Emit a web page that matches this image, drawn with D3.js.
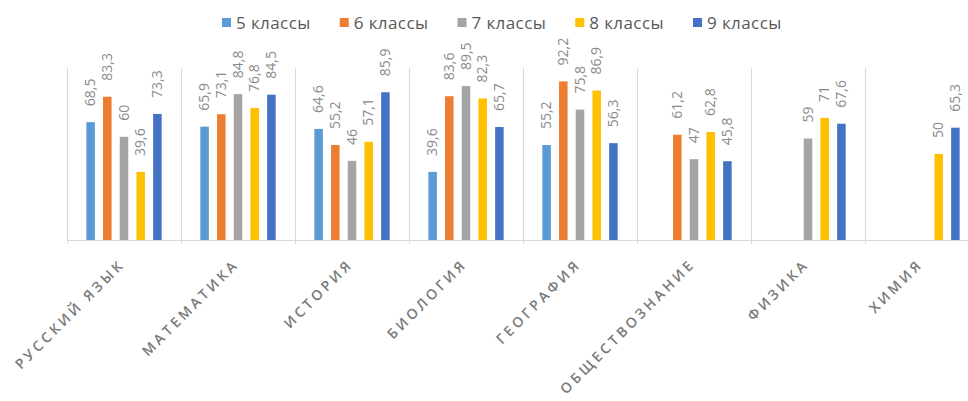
<!DOCTYPE html>
<html>
<head>
<meta charset="utf-8">
<script src="https://cdn.jsdelivr.net/npm/d3@7"></script>
<style>
  html, body { margin: 0; padding: 0; background: #fff; }
  svg { display: block; }
</style>
</head>
<body>
<svg id="chart" width="968" height="401"></svg>
<script>
const categories = ["Русский язык", "Математика", "История", "Биология", "География", "Обществознание", "Физика", "Химия"];
const seriesNames = ["5 классы", "6 классы", "7 классы", "8 классы", "9 классы"];
const s5 = [68.5, 65.9, 64.6, 39.6, 55.2, null, null, null];
const s6 = [83.3, 73.1, 55.2, 83.6, 92.2, 61.2, null, null];
const s7 = [60, 84.8, 46, 89.5, 75.8, 47, 59, null];
const s8 = [39.6, 76.8, 57.1, 82.3, 86.9, 62.8, 71, 50];
const s9 = [73.3, 84.5, 85.9, 65.7, 56.3, 45.8, 67.6, 65.3];
const seriesValues = [s5, s6, s7, s8, s9];
const colors = ["#5B9BD5", "#ED7D31", "#A5A5A5", "#FFC000", "#4472C4"];

const svg = d3.select("#chart");
const plotLeft = 67, plotRight = 979, plotTop = 68, plotBottom = 240;

const x0 = d3.scaleBand().domain(categories).range([plotLeft, plotRight]).padding(0);
const bw = x0.bandwidth();
const groupW = 83.5;
const x1 = d3.scaleBand().domain(seriesNames)
  .range([(bw - groupW) / 2, (bw + groupW) / 2])
  .paddingInner(0.49).paddingOuter(0.245);
const y = d3.scaleLinear().domain([0, 100]).range([plotBottom, plotTop]);

// vertical category separators
const bounds = categories.map(c => x0(c)).concat([plotRight]);
svg.append("g").selectAll("line").data(bounds).join("line")
  .attr("x1", d => d + 0.5).attr("x2", d => d + 0.5)
  .attr("y1", y(100)).attr("y2", plotBottom + 4)
  .attr("stroke", "#d9d9d9").attr("stroke-width", 1);

// baseline axis
svg.append("line")
  .attr("x1", plotLeft).attr("x2", plotRight)
  .attr("y1", plotBottom + 0.5).attr("y2", plotBottom + 0.5)
  .attr("stroke", "#d9d9d9").attr("stroke-width", 1);

const fmt = v => String(v).replace(".", ",");

// bars and labels
const data = [];
categories.forEach((c, ci) => {
  seriesNames.forEach((s, si) => {
    const v = seriesValues[si][ci];
    if (v !== null) data.push({ c, s, si, v });
  });
});

const g = svg.append("g");
g.selectAll("rect").data(data).join("rect")
  .attr("x", d => x0(d.c) + x1(d.s))
  .attr("width", x1.bandwidth())
  .attr("y", d => y(d.v))
  .attr("height", d => plotBottom - y(d.v))
  .attr("fill", d => colors[d.si]);

g.selectAll("text.lbl").data(data).join("text")
  .attr("class", "lbl")
  .attr("transform", d => `translate(${x0(d.c) + x1(d.s) + x1.bandwidth() / 2 - 1},${y(d.v) - 16}) rotate(-90)`)
  .attr("text-anchor", "start")
  .attr("dominant-baseline", "central")
  .attr("font-family", "Open Sans, sans-serif")
  .attr("font-size", 14)
  .attr("fill", "#8a8a8a")
  .text(d => fmt(d.v));

// category labels
svg.append("g").selectAll("text").data(categories).join("text")
  .attr("transform", d => `translate(${x0(d) + bw / 2 + 2},${plotBottom + 25}) rotate(-45)`)
  .attr("text-anchor", "end")
  .attr("font-family", "Open Sans, sans-serif")
  .attr("font-size", 14)
  .attr("font-weight", 600)
  .attr("letter-spacing", 3.3)
  .attr("fill", "#7a7a7a")
  .text(d => d.toUpperCase());

// legend
const legend = svg.append("g");
const lx = d3.scaleLinear().domain([0, 4]).range([222, 693]);
seriesNames.forEach((s, i) => {
  legend.append("rect")
    .attr("x", lx(i)).attr("y", 18)
    .attr("width", 9).attr("height", 9)
    .attr("fill", colors[i]);
  legend.append("text")
    .attr("x", lx(i) + 14).attr("y", 28.5)
    .attr("font-family", "Open Sans, sans-serif")
    .attr("font-size", 17)
    .attr("letter-spacing", 0.4)
    .attr("fill", "#595959")
    .text(s);
});
</script>
</body>
</html>
